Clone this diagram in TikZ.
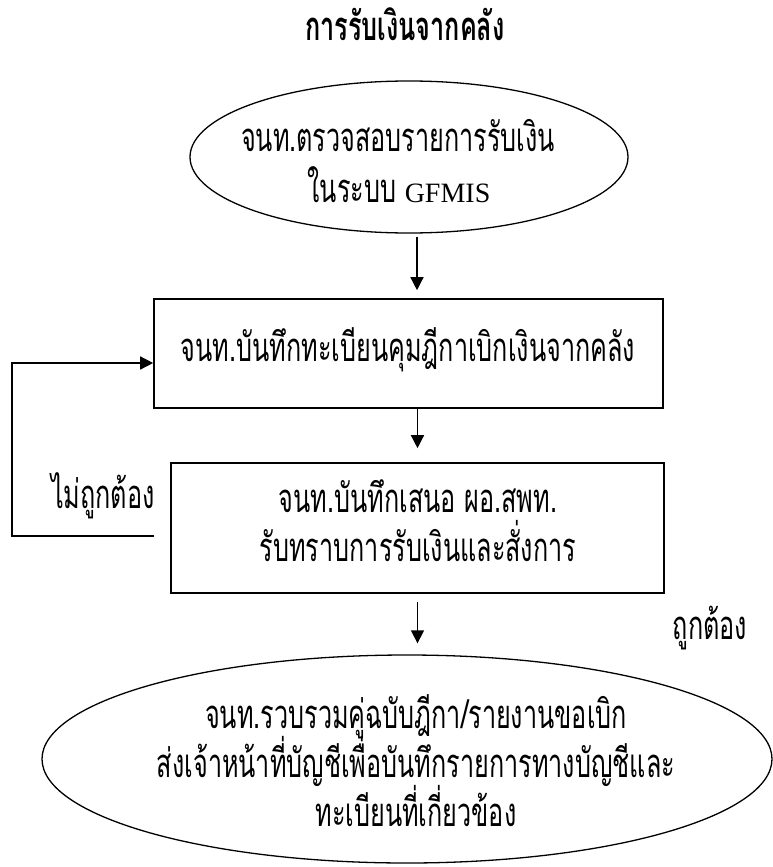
\documentclass[tikz,border=0pt]{standalone}
\usepackage{fontspec}
\usetikzlibrary{shapes.geometric,arrows.meta}
\newfontfamily\thaifont[Script=Thai,FakeStretch=0.63]{Loma}
\newfontfamily\latfont{Liberation Serif}
\begin{document}
\begin{tikzpicture}[x=1pt,y=-1pt,
  txt/.style={font=\thaifont\fontsize{40}{48}\selectfont, inner sep=0pt, anchor=base},
  oval/.style={draw, ellipse, line width=1.3pt, inner sep=0pt},
  stepbox/.style={draw, rectangle, line width=1.6pt, inner sep=0pt},
  flow/.style={line width=1.4pt, -{Triangle[length=13pt,width=13pt]}}]
\useasboundingbox (0,0) rectangle (773,867);
% title
\node[txt, font=\thaifont\bfseries\fontsize{40}{48}\selectfont] (title) at (405,41) {การรับเงินจากคลัง};
% shapes
\node[oval, minimum width=438pt, minimum height=152pt] (e1) at (409,157) {};
\node[stepbox, minimum width=509pt, minimum height=109pt] (b1) at (408.5,353.5) {};
\node[stepbox, minimum width=493pt, minimum height=130pt] (b2) at (417.5,528) {};
\node[oval, minimum width=730pt, minimum height=208pt] (e2) at (407,759) {};
% texts
\node[txt] (t1a) at (398,151) {จนท.ตรวจสอบรายการรับเงิน};
\node[txt] (t1b) at (399,202) {ในระบบ {\latfont\fontsize{28}{30}\selectfont GFMIS}};
\node[txt] (t2) at (408,361) {จนท.บันทึกทะเบียนคุมฎีกาเบิกเงินจากคลัง};
\node[txt] (t3a) at (418,512) {จนท.บันทึกเสนอ ผอ.สพท.};
\node[txt] (t3b) at (418,561) {รับทราบการรับเงินและสั่งการ};
\node[txt] (t4a) at (416,728) {จนท.รวบรวมคู่ฉบับฎีกา/รายงานขอเบิก};
\node[txt] (t4b) at (416,777) {ส่งเจ้าหน้าที่บัญชีเพื่อบันทึกรายการทางบัญชีและ};
\node[txt] (t4c) at (416,826) {ทะเบียนที่เกี่ยวข้อง};
\node[txt] (no) at (103,508) {ไม่ถูกต้อง};
\node[txt] (yes) at (710,639) {ถูกต้อง};
% connectors
\draw[flow, shorten <=3pt, shorten >=8pt] ([xshift=8pt]e1.south) -- ([xshift=8.5pt]b1.north);
\draw[flow, shorten >=14pt] (b1.south -| b2.north) -- (b2.north);
\draw[flow, shorten <=8pt, shorten >=11pt] (b2.south) -- (e2.north -| b2.south);
\coordinate (fb1) at (154,536);
\coordinate (fb2) at (12,363);
\draw[flow] (fb1) -- (fb1 -| fb2) -- (fb2) -- (b1.west |- fb2);
\end{tikzpicture}
\end{document}
